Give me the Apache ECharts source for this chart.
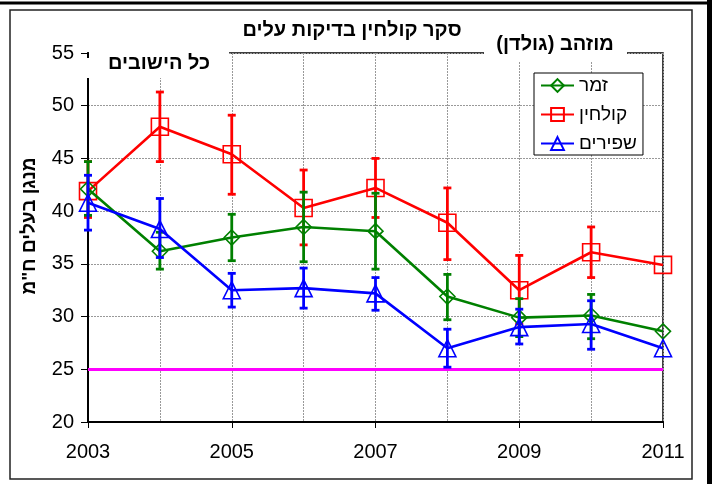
<!DOCTYPE html>
<html>
<head>
<meta charset="utf-8">
<script src="https://cdn.jsdelivr.net/npm/echarts@6/dist/echarts.min.js"></script>
<style>html,body{margin:0;padding:0;background:#fff;}#c{width:712px;height:484px;}</style>
</head>
<body>
<div id="c"></div>
<script>
const years = [2003, 2004, 2005, 2006, 2007, 2008, 2009, 2010, 2011];
const seriesNames = ['זמר', 'קולחין', 'שפירים'];
const zamar = [42.1, 36.2, 37.5, 38.5, 38.1, 31.9, 29.9, 30.1, 28.6];
const zamarLow = [39.6, 34.5, 35.3, 35.2, 34.5, 29.7, 28.1, 27.9, null];
const zamarHigh = [44.7, 38.0, 39.7, 41.8, 41.7, 34.0, 31.7, 32.1, null];
const kolhin = [41.9, 48.0, 45.4, 40.3, 42.2, 38.9, 32.5, 36.1, 34.9];
const kolhinLow = [39.4, 44.7, 41.6, 36.8, 39.4, 35.4, 29.3, 33.7, null];
const kolhinHigh = [44.7, 51.3, 49.1, 43.9, 45.0, 42.2, 35.8, 38.5, null];
const shafirim = [40.8, 38.3, 32.5, 32.7, 32.2, 27.0, 29.0, 29.3, 27.0];
const shafirimLow = [38.2, 35.6, 30.9, 30.8, 30.6, 25.2, 27.4, 26.9, null];
const shafirimHigh = [43.4, 41.2, 34.1, 34.6, 33.7, 28.8, 30.7, 31.5, null];
const threshold = 25;
const yTicks = [20, 25, 30, 35, 40, 45, 50, 55];
const titleText = 'סקר קולחין בדיקות עלים';
const subText = 'מוזהב (גולדן)';
const cornerText = 'כל הישובים';
const yName = 'מנגן בעלים ח"מ';

const FONT = '"Liberation Sans", Arial, sans-serif';
const colors = ['#008000', '#ff0000', '#0000ff'];
const symbols = ['diamond', 'rect', 'triangle'];
const symSizes = [15, 17, 17];
const vals = [zamar, kolhin, shafirim];
const lows = [zamarLow, kolhinLow, shafirimLow];
const highs = [zamarHigh, kolhinHigh, shafirimHigh];
const zs = [4, 3, 5];

function pairs(v) { return years.map((y, i) => [y, v[i]]); }
function errData(lo, hi) {
  const out = [];
  years.forEach((y, i) => { if (lo[i] != null) out.push([y, lo[i], hi[i]]); });
  return out;
}

const series = [];
seriesNames.forEach((name, k) => {
  series.push({
    name: name,
    type: 'line',
    z: zs[k],
    data: pairs(vals[k]),
    symbol: symbols[k],
    symbolSize: symSizes[k],
    showAllSymbol: true,
    color: colors[k],
    lineStyle: { color: colors[k], width: 2.6 },
    itemStyle: { color: 'rgba(255,255,255,0)', borderColor: colors[k], borderWidth: 1.6 },
    emphasis: { disabled: true },
    animation: false,
    markLine: k === 0 ? {
      silent: true,
      symbol: 'none',
      label: { show: false },
      lineStyle: { color: '#ff00ff', width: 3, type: 'solid' },
      data: [{ yAxis: threshold }]
    } : undefined
  });
});
seriesNames.forEach((name, k) => {
  series.push({
    name: name + ' error',
    type: 'custom',
    z: zs[k],
    data: errData(lows[k], highs[k]),
    encode: { x: 0, y: [1, 2] },
    renderItem: function (params, api) {
      const x = api.value(0);
      const p1 = api.coord([x, api.value(1)]);
      const p2 = api.coord([x, api.value(2)]);
      const cw = 4;
      const st = { stroke: colors[k], lineWidth: 2.8 };
      return {
        type: 'group',
        children: [
          { type: 'line', shape: { x1: p1[0], y1: p1[1], x2: p2[0], y2: p2[1] }, style: st },
          { type: 'line', shape: { x1: p1[0] - cw, y1: p1[1], x2: p1[0] + cw, y2: p1[1] }, style: st },
          { type: 'line', shape: { x1: p2[0] - cw, y1: p2[1], x2: p2[0] + cw, y2: p2[1] }, style: st }
        ]
      };
    }
  });
});

const chart = echarts.init(document.getElementById('c'), null, { renderer: 'canvas' });
chart.setOption({
  animation: false,
  backgroundColor: '#fff',
  textStyle: { fontFamily: FONT },
  grid: { left: 88, right: 49, top: 53, bottom: 62, show: true, borderColor: '#000', borderWidth: 1.5, backgroundColor: 'transparent' },
  legend: {
    data: seriesNames,
    orient: 'vertical',
    left: 534,
    top: 73,
    backgroundColor: '#fff',
    borderColor: '#000',
    borderWidth: 1,
    borderRadius: 0,
    padding: [3, 6, 2, 6],
    itemGap: 10,
    itemWidth: 33,
    itemHeight: 16,
    textStyle: { fontSize: 19, color: '#000', fontFamily: FONT },
    z: 20
  },
  xAxis: {
    type: 'value',
    min: 2003, max: 2011, interval: 2,
    axisLine: { show: true, lineStyle: { color: '#000', width: 2 } },
    axisTick: { show: true, length: 6, lineStyle: { color: '#000', width: 1 } },
    minorTick: { show: false, splitNumber: 2 },
    minorSplitLine: { show: true, lineStyle: { color: '#999', width: 1, type: [2, 1] } },
    splitLine: { show: true, lineStyle: { color: '#999', width: 1, type: [2, 1] } },
    axisLabel: { fontSize: 20, color: '#000', margin: 20, fontFamily: FONT, formatter: v => String(v) }
  },
  yAxis: {
    type: 'value',
    min: yTicks[0], max: yTicks[yTicks.length - 1], interval: 5,
    axisLine: { show: true, lineStyle: { color: '#000', width: 2 } },
    axisTick: { show: true, length: 7, lineStyle: { color: '#000', width: 1 } },
    splitLine: { show: true, lineStyle: { color: '#999', width: 1, type: [2, 1] } },
    axisLabel: { fontSize: 20, color: '#000', margin: 14, fontFamily: FONT }
  },
  series: series,
  graphic: [
    { type: 'rect', z: 100, shape: { x: 0, y: 1.5, width: 712, height: 3 }, style: { fill: '#000' } },
    { type: 'rect', z: 100, shape: { x: 707, y: 0, width: 5, height: 484 }, style: { fill: '#000' } },
    { type: 'rect', z: 100, shape: { x: 10, y: 10, width: 682, height: 469 }, style: { fill: 'none', stroke: '#222', lineWidth: 1.5 } },
    { type: 'rect', z: 100, shape: { x: 89, y: 50, width: 140, height: 28 }, style: { fill: '#fff' } },
    { type: 'rect', z: 100, shape: { x: 85, y: 58, width: 6, height: 20 }, style: { fill: '#fff' } },
    { type: 'rect', z: 100, shape: { x: 484, y: 28, width: 143, height: 33 }, style: { fill: '#fff' } },
    { type: 'text', z: 101, x: 352, y: 30, style: { text: titleText, font: 'bold 20px ' + FONT, fill: '#000', textAlign: 'center', textVerticalAlign: 'middle' } },
    { type: 'text', z: 101, x: 555, y: 44, style: { text: '\u200F' + subText + '\u200F', font: 'bold 20px ' + FONT, fill: '#000', textAlign: 'center', textVerticalAlign: 'middle' } },
    { type: 'text', z: 101, x: 159, y: 63, style: { text: cornerText, font: 'bold 20px ' + FONT, fill: '#000', textAlign: 'center', textVerticalAlign: 'middle' } },
    { type: 'text', z: 101, x: 30, y: 226, rotation: Math.PI / 2, style: { text: yName, font: 'bold 19px ' + FONT, fill: '#000', textAlign: 'center', textVerticalAlign: 'middle' } }
  ]
});
</script>
</body>
</html>
